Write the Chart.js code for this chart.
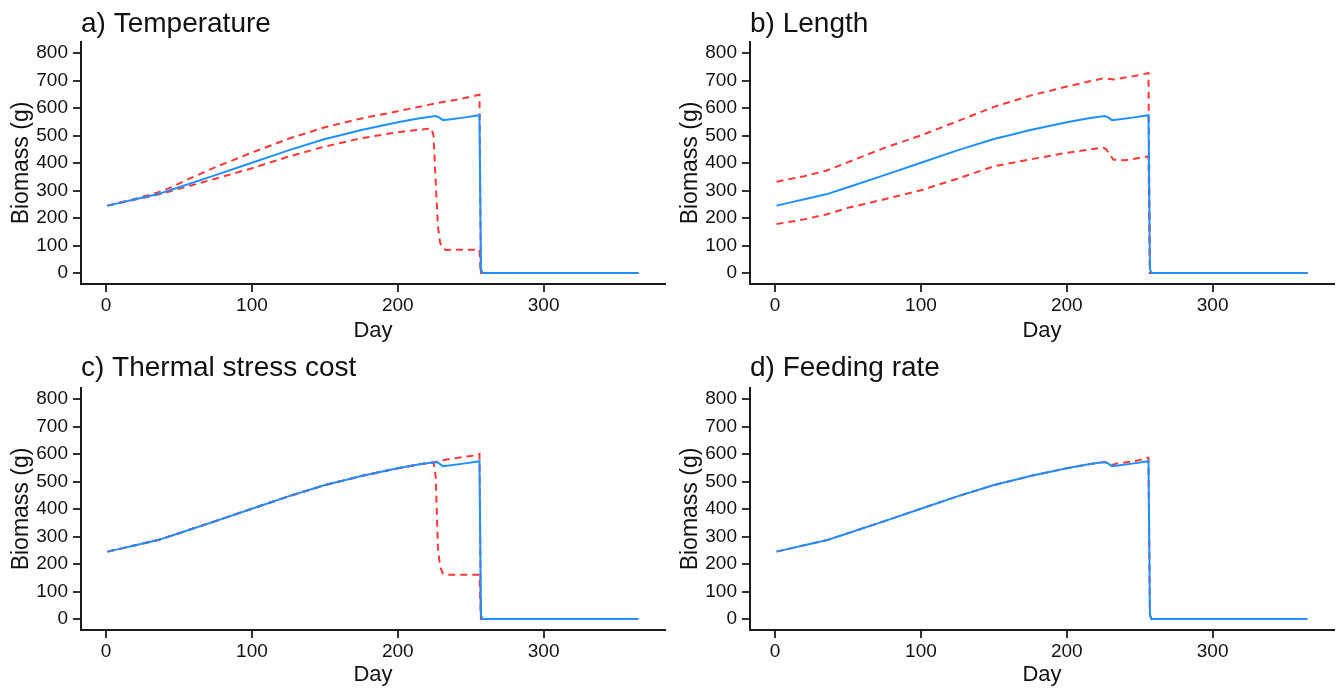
<!DOCTYPE html>
<html>
<head>
<meta charset="utf-8">
<title>Biomass sensitivity</title>
<script src="https://cdn.jsdelivr.net/npm/chart.js@4.4.1/dist/chart.umd.min.js"></script>
<style>
  html, body { margin: 0; padding: 0; background: #fff; }
  #wrap { position: relative; width: 1338px; height: 688px; }
  #wrap canvas { position: absolute; }
</style>
</head>
<body>
<div id="wrap">
  <canvas id="panelA" width="669" height="344" style="left:0;top:0"></canvas>
  <canvas id="panelB" width="669" height="344" style="left:669px;top:0"></canvas>
  <canvas id="panelC" width="669" height="343" style="left:0;top:345px"></canvas>
  <canvas id="panelD" width="669" height="343" style="left:669px;top:345px"></canvas>
</div>
<script>
// ---- Data ----
const dayTicks = [0, 100, 200, 300];
const biomassTicks = [0, 100, 200, 300, 400, 500, 600, 700, 800];

// baseline run (blue, same in every panel)
const baseDays    = [1, 10, 20, 35, 50, 75, 100, 125, 150, 160, 175, 200, 215, 226, 228, 231, 235, 245, 256, 257, 258, 365];
const baseBiomass = [245, 256, 268, 286, 312, 356, 401, 446, 487, 500, 520, 548, 563, 571, 567, 556, 558, 565, 574, 15, 0, 0];

// a) Temperature
const tempHighDays    = [1, 20, 35, 45, 55, 75, 100, 125, 150, 175, 200, 225, 240, 255, 256, 257, 365];
const tempHighBiomass = [245, 270, 292, 312, 338, 385, 438, 488, 530, 562, 588, 616, 630, 647, 648, 0, 0];
const tempLowDays     = [1, 20, 35, 50, 75, 100, 125, 150, 175, 200, 223, 224.5, 226, 227.5, 229, 231, 233, 255, 256, 256.7, 365];
const tempLowBiomass  = [245, 267, 284, 306, 343, 381, 423, 460, 490, 512, 526, 500, 330, 170, 110, 90, 84, 85, 84, 0, 0];

// b) Length
const lengthHighDays    = [1, 20, 35, 50, 75, 100, 125, 150, 175, 200, 225, 232, 245, 256, 257, 365];
const lengthHighBiomass = [332, 352, 372, 403, 455, 500, 552, 604, 645, 678, 708, 704, 715, 727, 0, 0];
const lengthLowDays     = [1, 20, 35, 50, 75, 100, 125, 150, 175, 200, 225, 227, 232, 240, 256, 257, 365];
const lengthLowBiomass  = [178, 195, 213, 237, 268, 301, 343, 388, 413, 437, 456, 450, 412, 410, 424, 0, 0];

// c) Thermal stress cost
const stressHighDays    = [1, 10, 20, 35, 50, 75, 100, 125, 150, 160, 175, 200, 215, 226, 230, 240, 250, 255, 256, 257, 365];
const stressHighBiomass = [245, 256, 268, 286, 312, 356, 401, 446, 487, 500, 520, 548, 563, 571, 577, 585, 593, 598, 600, 0, 0];
const stressLowDays     = [1, 10, 20, 35, 50, 75, 100, 125, 150, 160, 175, 200, 215, 224.5, 226, 227.5, 229, 231, 233, 255, 256, 257, 365];
const stressLowBiomass  = [245, 256, 268, 286, 312, 356, 401, 446, 487, 500, 520, 548, 563, 569, 520, 260, 190, 165, 161, 161, 160, 0, 0];

// d) Feeding rate
const feedDays    = [1, 10, 20, 35, 50, 75, 100, 125, 150, 160, 175, 200, 215, 226, 228, 231, 235, 240, 245, 250, 255, 256, 257, 258, 365];
const feedBiomass = [245, 256, 268, 286, 312, 356, 401, 446, 487, 500, 520, 548, 563, 571, 567, 560, 566, 569, 573, 578, 586, 586, 15, 0, 0];

// ---- Styles ----
const BLUE = '#1e90ff';
const RED = 'rgba(255,20,20,0.85)';
const FONT = "'Liberation Sans', Arial, sans-serif";
const INK = '#111';

const toPoints = (xs, ys) => xs.map((x, i) => ({ x: x, y: ys[i] }));

// panel title drawn at the left edge of the plot area
const panelTitle = {
  id: 'panelTitle',
  afterDraw(chart, args, opts) {
    const ctx = chart.ctx;
    ctx.save();
    ctx.font = '28px ' + FONT;
    ctx.fillStyle = INK;
    ctx.textBaseline = 'alphabetic';
    ctx.textAlign = 'left';
    ctx.fillText(opts.text, chart.chartArea.left, opts.y);
    ctx.restore();
  }
};

function makePanel(id, title, lines, padTop, xHeight, titleY) {
  const datasets = lines.map(l => ({
    data: toPoints(l.days, l.values),
    borderColor: l.color,
    borderWidth: 2,
    borderDash: l.dash || [],
    pointRadius: 0,
    tension: 0,
    fill: false
  }));

  new Chart(document.getElementById(id), {
    type: 'line',
    data: { datasets },
    options: {
      responsive: false, animation: false, devicePixelRatio: 1,
      layout: { padding: { top: padTop, right: 4, left: 0, bottom: 0 } },
      plugins: {
        legend: { display: false }, tooltip: { enabled: false },
        panelTitle: { text: title, y: titleY }
      },
      scales: {
        x: {
          type: 'linear', min: -17.2, max: 383.2,
          afterBuildTicks: ax => { ax.ticks = dayTicks.map(v => ({ value: v })); },
          afterFit: sc => { sc.height = xHeight; },
          border: { display: true, color: '#1a1a1a', width: 2 },
          grid: { drawOnChartArea: false, drawTicks: true, tickLength: 8, color: '#333', lineWidth: 2 },
          ticks: { color: INK, font: { family: FONT, size: 19 }, padding: 2, maxRotation: 0 },
          title: { display: true, text: 'Day', color: INK, font: { family: FONT, size: 22 }, padding: { top: 0, bottom: 0 } }
        },
        y: {
          type: 'linear', min: -40, max: 840,
          afterBuildTicks: ax => { ax.ticks = biomassTicks.map(v => ({ value: v })); },
          afterFit: sc => { sc.width = 81; },
          border: { display: true, color: '#1a1a1a', width: 2 },
          grid: { drawOnChartArea: false, drawTicks: true, tickLength: 8, color: '#333', lineWidth: 2 },
          ticks: { color: INK, font: { family: FONT, size: 19 }, padding: 5 },
          title: { display: true, text: 'Biomass (g)', color: INK, font: { family: FONT, size: 23 }, padding: { top: 8, bottom: 0 } }
        }
      }
    },
    plugins: [panelTitle]
  });
}

// blue first so it is drawn on top of the dashed runs
makePanel('panelA', 'a) Temperature', [
  { days: baseDays, values: baseBiomass, color: BLUE },
  { days: tempHighDays, values: tempHighBiomass, color: RED, dash: [7, 5] },
  { days: tempLowDays, values: tempLowBiomass, color: RED, dash: [7, 5] }
], 42, 60, 32);

makePanel('panelB', 'b) Length', [
  { days: baseDays, values: baseBiomass, color: BLUE },
  { days: lengthHighDays, values: lengthHighBiomass, color: RED, dash: [7, 5] },
  { days: lengthLowDays, values: lengthLowBiomass, color: RED, dash: [7, 5] }
], 42, 60, 32);

makePanel('panelC', 'c) Thermal stress cost', [
  { days: baseDays, values: baseBiomass, color: BLUE },
  { days: stressHighDays, values: stressHighBiomass, color: RED, dash: [7, 5] },
  { days: stressLowDays, values: stressLowBiomass, color: RED, dash: [7, 5] }
], 43, 58, 31);

makePanel('panelD', 'd) Feeding rate', [
  { days: baseDays, values: baseBiomass, color: BLUE },
  { days: feedDays, values: feedBiomass, color: RED, dash: [7, 5] }
], 43, 58, 31);
</script>
</body>
</html>
